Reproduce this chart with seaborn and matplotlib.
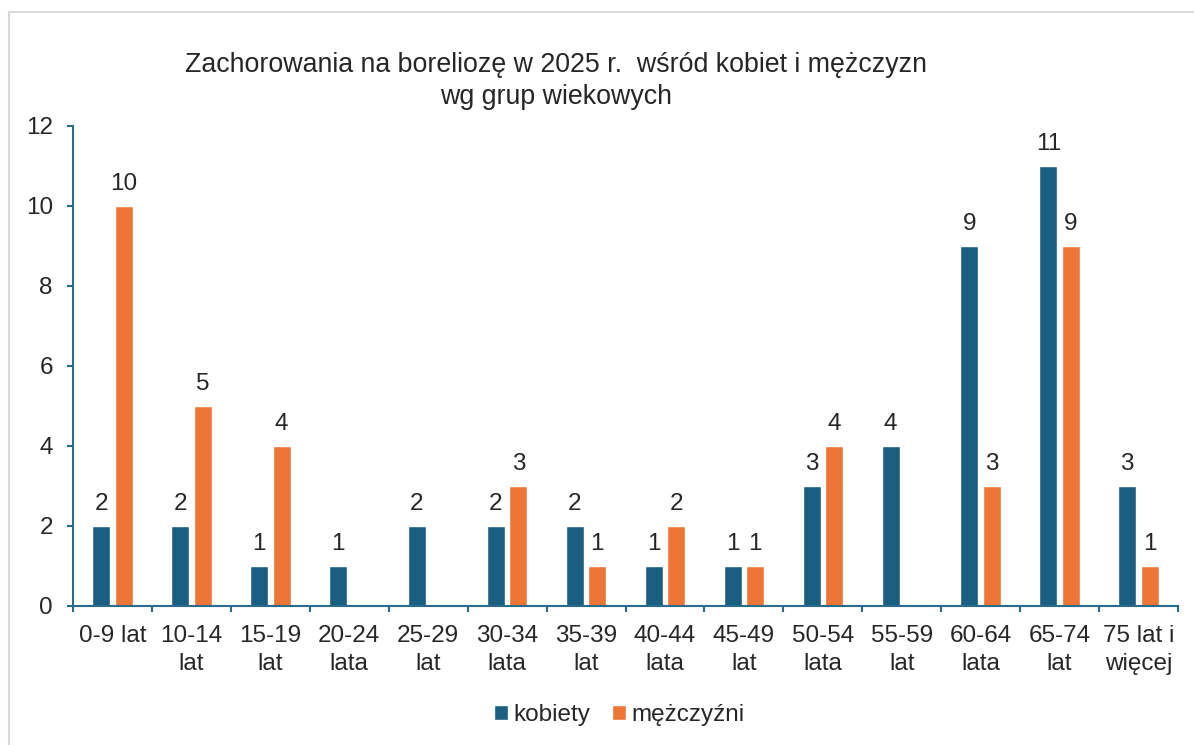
#!/usr/bin/env python3

# Import basic modules
import pandas as pd
import numpy as np
import matplotlib
matplotlib.use("Agg")
import matplotlib.pyplot as plt
from matplotlib.lines import Line2D
from matplotlib.patches import Patch
import seaborn as sns

sns.set_style("white")
plt.rcParams['font.family'] = ['Liberation Sans', 'DejaVu Sans']

# Data
age_groups = ["0-9 lat", "10-14\nlat", "15-19\nlat", "20-24\nlata", "25-29\nlat",
              "30-34\nlata", "35-39\nlat", "40-44\nlata", "45-49\nlat", "50-54\nlata",
              "55-59\nlat", "60-64\nlata", "65-74\nlat", "75 lat i\nwięcej"]
kobiety = [2, 2, 1, 1, 2, 2, 2, 1, 1, 3, 4, 9, 11, 3]
mezczyzni = [10, 5, 4, 0, 0, 3, 1, 2, 1, 4, 0, 3, 9, 1]
series_names = ["kobiety", "mężczyźni"]
y_ticks = [0, 2, 4, 6, 8, 10, 12]

colors = ["#1A5F82", "#ED7535"]
axis_color = "#2A6A8A"

# Build a long dataframe for seaborn
df = pd.DataFrame({
    "grupa": age_groups * 2,
    "płeć": [series_names[0]] * len(age_groups) + [series_names[1]] * len(age_groups),
    "liczba": kobiety + mezczyzni,
})

fig = plt.figure(figsize=(11.94, 7.45), dpi=100)
ax = fig.add_axes([73 / 1194, 1 - 606 / 745, (1178 - 73) / 1194, (606 - 126) / 745])

sns.barplot(data=df, x="grupa", y="liczba", hue="płeć", palette=colors,
            width=0.57, gap=0.2, ax=ax, legend=False, saturation=1)

# Data labels (skip zeros)
for container in ax.containers:
    labels = [f"{int(v)}" if v > 0 else "" for v in container.datavalues]
    ax.bar_label(container, labels=labels, padding=8, fontsize=17.5)

# Axes styling
ax.set_ylim(0, 12)
ax.set_xlim(-0.5, len(age_groups) - 0.5)
ax.set_yticks(y_ticks)
ax.set_xlabel("")
ax.set_ylabel("")
for side in ["top", "right"]:
    ax.spines[side].set_visible(False)
for side in ["left", "bottom"]:
    ax.spines[side].set_color(axis_color)
    ax.spines[side].set_linewidth(1.5)
ax.tick_params(axis="y", which="major", length=4.5, width=1.5, color=axis_color,
               labelsize=17.5, pad=10, left=True)
ax.tick_params(axis="x", which="major", length=0, labelsize=17.5, pad=14)
for lbl in ax.get_xticklabels():
    lbl.set_linespacing(1.3)
ax.set_xticks(np.arange(-0.5, len(age_groups), 1), minor=True)
ax.tick_params(axis="x", which="minor", length=4.5, width=1.5, color=axis_color, bottom=True)
ax.grid(False)

# Title
fig.text(556 / 1194, 1 - 81 / 745,
         "Zachorowania na boreliozę w 2025 r.  wśród kobiet i mężczyzn\nwg grup wiekowych",
         ha="center", va="center", fontsize=19.3, linespacing=1.25)

# Legend
handles = [Patch(facecolor=c, label=n) for c, n in zip(colors, series_names)]
fig.legend(handles=handles, loc="center", bbox_to_anchor=(619 / 1194, 1 - 715 / 745),
           ncol=2, frameon=False, fontsize=17.5, handlelength=0.6, handleheight=0.6,
           handletextpad=0.2, columnspacing=0.9)

# Chart-area border (only top and left visible in the crop)
fig.add_artist(Line2D([8.5 / 1194, 8.5 / 1194], [0, 1 - 11.5 / 745], transform=fig.transFigure,
                      color="#D9D9D9", linewidth=1.5))
fig.add_artist(Line2D([8.5 / 1194, 1], [1 - 11.5 / 745, 1 - 11.5 / 745], transform=fig.transFigure,
                      color="#D9D9D9", linewidth=1.5))

fig.savefig("out.png", dpi=100)
